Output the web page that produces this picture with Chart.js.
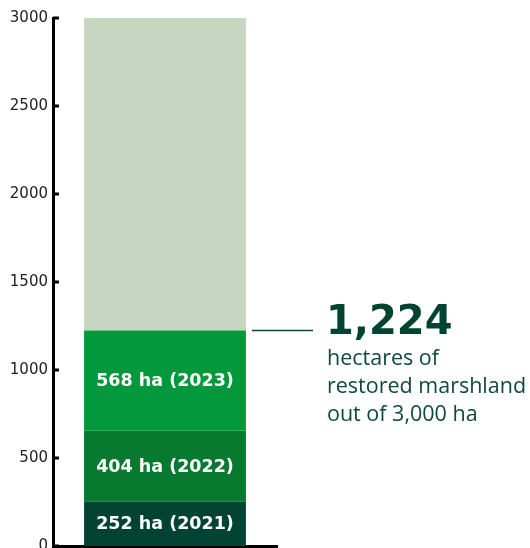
<!DOCTYPE html>
<html>
<head>
<meta charset="utf-8">
<script src="https://cdn.jsdelivr.net/npm/chart.js@4.4.1/dist/chart.umd.min.js"></script>
<style>
  html, body { margin: 0; padding: 0; background: #fff; }
  #wrap { width: 530px; height: 548px; position: relative; }
</style>
</head>
<body>
<div id="wrap"><canvas id="marsh"></canvas></div>
<script>
// restored marshland per year, hectares
const years = ['2021', '2022', '2023'];
const restored = [252, 404, 568];
const segColors = ['#004332', '#077a2f', '#03983b'];
const target = 3000;
const remainColor = '#c6d6c0';
const yTicks = [0, 500, 1000, 1500, 2000, 2500, 3000];

const totalRestored = restored.reduce((a, b) => a + b, 0);

const datasets = years.map((yr, i) => ({
    label: yr,
    data: [restored[i]],
    backgroundColor: segColors[i],
    barPercentage: 0.85,
    categoryPercentage: 0.85
}));
datasets.push({
    label: 'remaining',
    data: [target - totalRestored],
    backgroundColor: remainColor,
    barPercentage: 0.85,
    categoryPercentage: 0.85
});

const ctx = document.getElementById('marsh').getContext('2d');
const chart = new Chart(ctx, {
    type: 'bar',
    plugins: [{
        afterDraw: chart => {
            let c = chart.ctx;
            let y = chart.scales.y;
            let area = chart.chartArea;
            c.save();
            // tick marks point into the plot
            c.strokeStyle = '#000';
            c.lineWidth = 3;
            yTicks.forEach(v => {
                let py = y.getPixelForValue(v);
                c.beginPath();
                c.moveTo(area.left, py);
                c.lineTo(area.left + 6, py);
                c.stroke();
            });
            // labels inside each year segment
            c.fillStyle = '#fff';
            c.font = 'bold 17.5px "DejaVu Sans"';
            c.textAlign = 'center';
            c.textBaseline = 'middle';
            years.forEach((yr, i) => {
                let bar = chart.getDatasetMeta(i).data[0];
                let mid = (bar.y + bar.base) / 2;
                c.fillText(restored[i] + ' ha (' + yr + ')', bar.x, mid + 1);
            });
            // callout for the total
            let topY = y.getPixelForValue(totalRestored);
            c.strokeStyle = '#0b4a39';
            c.lineWidth = 1.5;
            c.beginPath();
            c.moveTo(252, topY);
            c.lineTo(313, topY);
            c.stroke();
            c.textAlign = 'left';
            c.textBaseline = 'alphabetic';
            c.fillStyle = '#00432f';
            c.font = 'bold 40px "DejaVu Sans"';
            c.fillText(totalRestored.toLocaleString('en-US'), 326, topY + 3);
            c.fillStyle = '#0d4a3a';
            c.font = '21.5px "Open Sans"';
            c.fillText('hectares of', 327, topY + 34);
            c.fillText('restored marshland', 327, topY + 62);
            c.fillText('out of ' + target.toLocaleString('en-US') + ' ha', 327, topY + 90);
            c.restore();
        }
    }],
    data: {
        labels: ['marshland'],
        datasets: datasets
    },
    options: {
        responsive: true,
        maintainAspectRatio: false,
        animation: false,
        layout: {
            padding: { top: 18, right: 253, bottom: 2, left: 0 }
        },
        plugins: {
            legend: { display: false },
            tooltip: { enabled: false },
            title: { display: false }
        },
        scales: {
            x: {
                stacked: true,
                ticks: { display: false },
                grid: { display: false, drawTicks: false },
                border: { display: true, color: '#000', width: 3 },
                afterFit: scale => { scale.height = 0; }
            },
            y: {
                stacked: true,
                min: 0,
                max: target,
                afterBuildTicks: scale => {
                    scale.ticks = yTicks.map(v => ({ value: v }));
                },
                ticks: {
                    color: '#222',
                    padding: 5,
                    font: { family: 'DejaVu Sans', size: 15 },
                    callback: v => String(v)
                },
                grid: { display: false, drawTicks: false },
                border: { display: true, color: '#000', width: 3 },
                afterFit: scale => {
                    scale.width = 53;
                    scale.paddingTop = 0;
                    scale.paddingBottom = 0;
                }
            }
        }
    }
});
</script>
</body>
</html>
